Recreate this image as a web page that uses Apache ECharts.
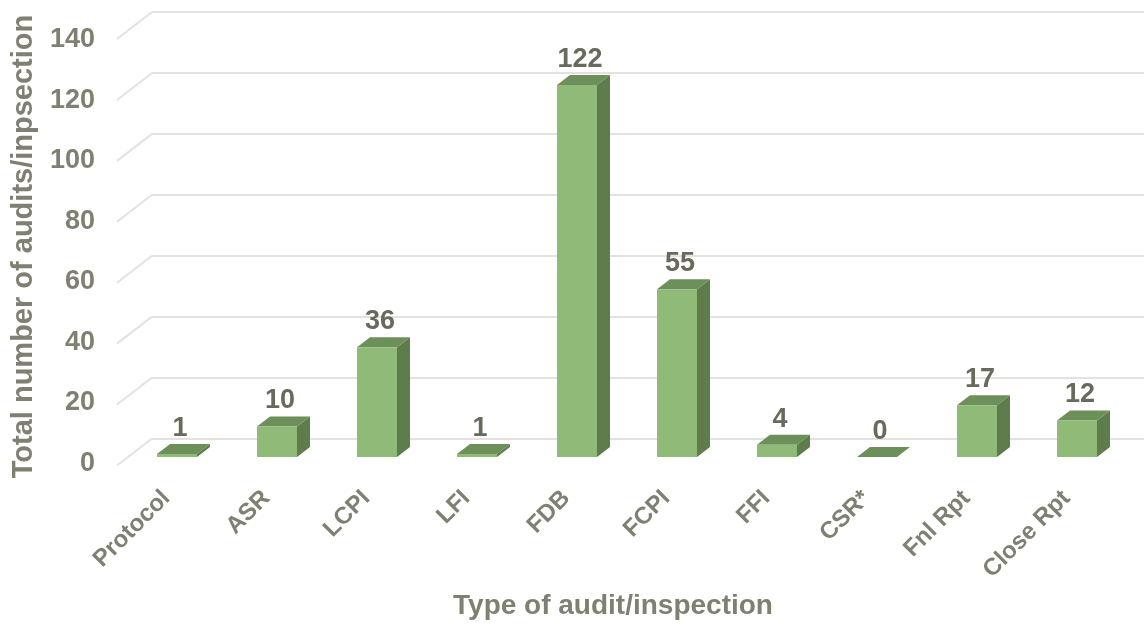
<!DOCTYPE html>
<html>
<head>
<meta charset="utf-8">
<script src="https://cdn.jsdelivr.net/npm/echarts@6/dist/echarts.min.js"></script>
<style>
html,body{margin:0;padding:0;background:#fff;}
#chart{width:1144px;height:633px;}
</style>
</head>
<body>
<div id="chart"></div>
<script>
const categories = ['Protocol','ASR','LCPI','LFI','FDB','FCPI','FFI','CSR*','Fnl Rpt','Close Rpt'];
const values = [1,10,36,1,122,55,4,0,17,12];
const yTicks = [0,20,40,60,80,100,120,140];
const yTitle = 'Total number of audits/inpsection';
const xTitle = 'Type of audit/inspection';

const FONT = '"Liberation Sans", Arial, sans-serif';
const AXIS_COLOR = '#808072';
const LABEL_COLOR = '#69695c';
const GRID_COLOR = '#e2e2de';
const FRONT = '#8fba78';
const SIDE = '#5f7c4d';
const TOPC = '#6d8f59';
const DX = 13, DY = -10;       // bar depth offset
const WDX = -35, WDY = 27;     // wall depth offset (back -> front)

const chart = echarts.init(document.getElementById('chart'), null, {renderer:'canvas'});

function renderBar(params, api){
  const i = api.value(0), v = api.value(1);
  const top = api.coord([i, v]);
  const base = api.coord([i, 0]);
  const w = api.size([1, 0])[0] * 0.4;
  const x0 = top[0] - w/2, x1 = top[0] + w/2;
  const ty = top[1], by = base[1];
  return {
    type:'group',
    children:[
      {type:'polygon', shape:{points:[[x1,ty],[x1+DX,ty+DY],[x1+DX,by+DY],[x1,by]]}, style:{fill:SIDE}},
      {type:'polygon', shape:{points:[[x0,ty],[x1,ty],[x1+DX,ty+DY],[x0+DX,ty+DY]]}, style:{fill:TOPC}},
      {type:'rect', shape:{x:x0, y:ty, width:w, height:Math.max(by-ty,0)}, style:{fill:FRONT}},
      {type:'text', style:{text:String(v), x:top[0]+3, y:ty+DY-2, align:'center', verticalAlign:'bottom',
        fill:LABEL_COLOR, font:'bold 27px ' + FONT}}
    ]
  };
}

function renderDiag(params, api){
  const p = api.coord([0, api.value(0)]);
  return {type:'line', shape:{x1:p[0], y1:p[1], x2:p[0]+WDX, y2:p[1]+WDY},
    style:{stroke:GRID_COLOR, lineWidth:2}};
}

const option = {
  animation:false,
  backgroundColor:'#ffffff',
  grid:[
    {left:152, right:-30, top:12, bottom:633-438.5},   // back wall
    {left:117, width:10, top:39.5, bottom:633-463.5},  // front label plane
    {left:127, right:17, top:30, bottom:633-457}       // bar plane
  ],
  xAxis:[
    {gridIndex:0, type:'value', min:0, max:1, show:false},
    {gridIndex:1, type:'value', min:0, max:1, show:false},
    {gridIndex:2, type:'category', data:categories,
      axisLine:{show:false}, axisTick:{show:false},
      axisLabel:{rotate:45, margin:27, padding:[0,15,0,0], interval:0, color:AXIS_COLOR, fontFamily:FONT, fontWeight:'bold', fontSize:24}}
  ],
  yAxis:[
    {gridIndex:0, type:'value', min:0, max:140, interval:20,
      axisLine:{show:false}, axisTick:{show:false}, axisLabel:{show:false},
      splitLine:{show:true, lineStyle:{color:GRID_COLOR, width:2}}},
    {gridIndex:1, type:'value', min:0, max:140, interval:20,
      axisLine:{show:false}, axisTick:{show:false}, splitLine:{show:false},
      axisLabel:{margin:22, color:AXIS_COLOR, fontFamily:FONT, fontWeight:'bold', fontSize:27}},
    {gridIndex:2, type:'value', min:0, max:140, interval:20, show:false, splitLine:{show:false}}
  ],
  graphic:[
    {type:'text', x:23.5, y:246.5, rotation:Math.PI/2,
      style:{text:yTitle, align:'center', verticalAlign:'middle', fill:AXIS_COLOR, font:'bold 29px ' + FONT}},
    {type:'text', x:613, y:606,
      style:{text:xTitle, align:'center', verticalAlign:'middle', fill:AXIS_COLOR, font:'bold 28px ' + FONT}}
  ],
  series:[
    {type:'custom', xAxisIndex:0, yAxisIndex:0, renderItem:renderDiag, data:yTicks.map(v=>[v]), encode:{y:0}, silent:true},
    {type:'custom', xAxisIndex:2, yAxisIndex:2, renderItem:renderBar, data:values.map((v,i)=>[i,v]), encode:{x:0,y:1}, z:5}
  ]
};
chart.setOption(option);
</script>
</body>
</html>
